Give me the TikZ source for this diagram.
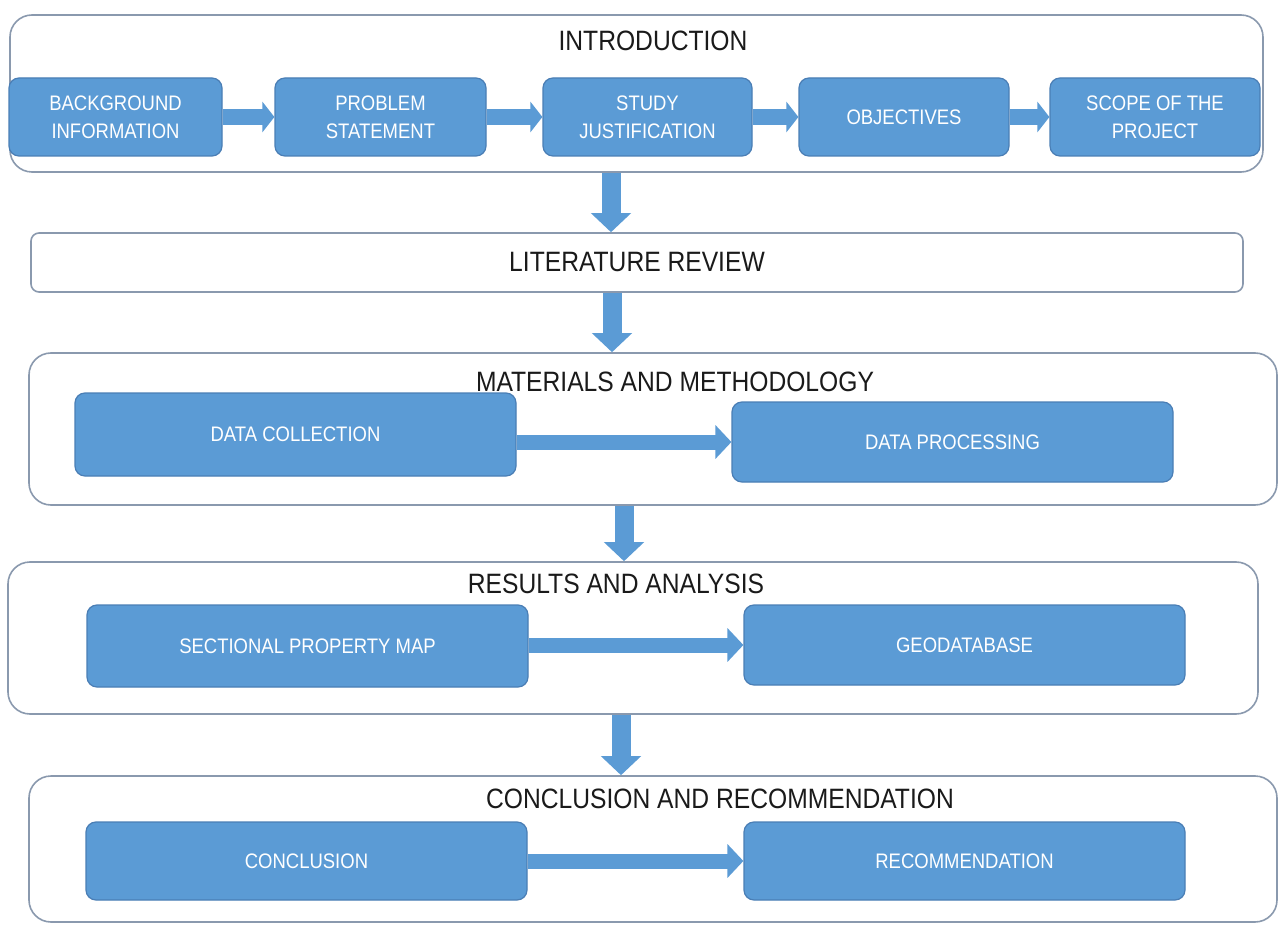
\documentclass[tikz,border=0pt]{standalone}
\usepackage{fontspec}
\setmainfont{Liberation Sans}[FakeStretch=0.88]
\usetikzlibrary{arrows.meta,calc}
\definecolor{boxblue}{HTML}{5B9BD5}
\definecolor{boxedge}{HTML}{4A7EB5}
\definecolor{framecol}{HTML}{8A99AE}
\definecolor{titlecol}{HTML}{1A1A1A}
% \mkbox{style}{name}{x1}{y1}{x2}{y2}{text}  (pixel coordinates)
\newcommand{\mkbox}[7]{\node[#1, minimum width={(#5-#3)*0.5pt}, minimum height={(#6-#4)*0.5pt}] (#2) at ({(#3+#5)/2},{(#4+#6)/2}) {#7};}
\begin{document}
\begin{tikzpicture}[x=0.5pt,y=-0.5pt,
  container/.style={draw=framecol, line width=0.8pt, fill=white, rounded corners=11pt, inner sep=0pt},
  litbox/.style={draw=framecol, line width=0.8pt, fill=white, rounded corners=4pt, inner sep=0pt, text=titlecol, font=\fontsize{14}{16}\selectfont},
  bluebox/.style={draw=boxedge, line width=0.6pt, fill=boxblue, rounded corners=5pt, inner sep=0pt, text=white, font=\fontsize{10.5}{14}\selectfont, align=center},
  titletext/.style={text=titlecol, font=\fontsize{14}{16}\selectfont, inner sep=0pt},
  harrow/.style={draw=boxblue, line width=8pt, -{Triangle[length=6pt,width=15pt]}},
  harrowb/.style={draw=boxblue, line width=7.5pt, -{Triangle[length=8pt,width=16.5pt]}},
  varrow/.style={draw=boxblue, line width=9.5pt, -{Triangle[length=9.5pt,width=19.5pt]}}
]
\useasboundingbox (0,0) rectangle (1280,925);

% containers
\mkbox{container}{intro}{10}{15}{1263}{172}{}
\node[titletext] (tintro) at (653,41) {INTRODUCTION};
\mkbox{litbox}{lit}{31}{233}{1243}{292}{LITERATURE REVIEW}
\mkbox{container}{mat}{29}{353}{1277}{505}{}
\node[titletext] (tmat) at (675,382) {MATERIALS AND METHODOLOGY};
\mkbox{container}{res}{8}{562}{1258}{714}{}
\node[titletext] (tres) at (616,584) {RESULTS AND ANALYSIS};
\mkbox{container}{con}{29}{776}{1277}{922}{}
\node[titletext] (tcon) at (720,799) {CONCLUSION AND RECOMMENDATION};

% intro boxes
\mkbox{bluebox}{bg}{9}{78}{222}{156}{BACKGROUND\\INFORMATION}
\mkbox{bluebox}{ps}{275}{78}{486}{156}{PROBLEM\\STATEMENT}
\mkbox{bluebox}{sj}{543}{78}{752}{156}{STUDY\\JUSTIFICATION}
\mkbox{bluebox}{ob}{799}{78}{1009}{156}{OBJECTIVES}
\mkbox{bluebox}{sc}{1050}{78}{1260}{156}{SCOPE OF THE\\PROJECT}

% materials boxes
\mkbox{bluebox}{dc}{75}{393}{516}{476}{DATA COLLECTION}
\mkbox{bluebox}{dp}{732}{402}{1173}{482}{DATA PROCESSING}

% results boxes
\mkbox{bluebox}{sp}{87}{605}{528}{687}{SECTIONAL PROPERTY MAP}
\mkbox{bluebox}{geo}{744}{605}{1185}{685}{GEODATABASE}

% conclusion boxes
\mkbox{bluebox}{cc}{86}{822}{527}{900}{CONCLUSION}
\mkbox{bluebox}{rc}{744}{822}{1185}{900}{RECOMMENDATION}

% horizontal arrows
\draw[harrow] (bg.east) -- (ps.west);
\draw[harrow] (ps.east) -- (sj.west);
\draw[harrow] (sj.east) -- (ob.west);
\draw[harrow] (ob.east) -- (sc.west);
\draw[harrowb] (dc.east |- dp.west) -- (dp.west);
\draw[harrowb] (sp.east |- geo.west) -- (geo.west);
\draw[harrowb] (cc.east) -- (rc.west);

% vertical arrows
\coordinate (d1) at (611,0);
\coordinate (d2) at (612,0);
\coordinate (d3) at (624,0);
\coordinate (d4) at (621,0);
\draw[varrow] (intro.south -| d1) -- (lit.north -| d1);
\draw[varrow] (lit.south -| d2) -- (mat.north -| d2);
\draw[varrow] (mat.south -| d3) -- (res.north -| d3);
\draw[varrow] (res.south -| d4) -- (con.north -| d4);
\end{tikzpicture}
\end{document}
